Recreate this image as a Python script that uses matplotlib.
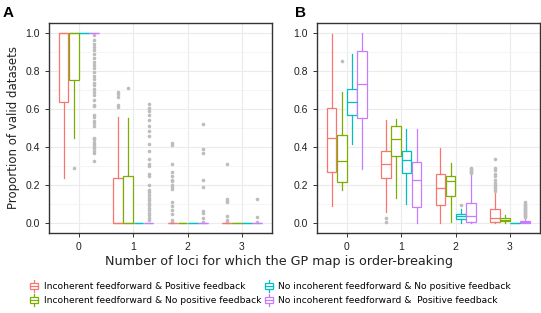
import matplotlib
matplotlib.use("Agg")
import matplotlib.pyplot as plt
from matplotlib.legend_handler import HandlerBase
from matplotlib.patches import Patch, Rectangle
from matplotlib.lines import Line2D
from matplotlib.ticker import MultipleLocator

# groups (number of order-breaking loci) and series
loci = [0, 1, 2, 3]
series = [
    "Incoherent feedforward & Positive feedback",
    "Incoherent feedforward & No positive feedback",
    "No incoherent feedforward & No positive feedback",
    "No incoherent feedforward &  Positive feedback",
]
colors = ["#F8766D", "#7CAE00", "#00BFC4", "#C77CFF"]

# box stats per series, per loci group: (whislo, q1, med, q3, whishi)
stats_a = [
    [(0.24, 0.635, 1.0, 1.0, 1.0), (0.0, 0.0, 0.0, 0.24, 0.555), (0, 0, 0, 0, 0), (0, 0, 0, 0, 0)],
    [(0.45, 0.75, 1.0, 1.0, 1.0), (0.0, 0.0, 0.0, 0.25, 0.55), (0, 0, 0, 0, 0), (0, 0, 0, 0, 0)],
    [(1.0, 1.0, 1.0, 1.0, 1.0), (0, 0, 0, 0, 0), (0, 0, 0, 0, 0), (0, 0, 0, 0, 0)],
    [(1.0, 1.0, 1.0, 1.0, 1.0), (0, 0, 0, 0, 0), (0, 0, 0, 0, 0), (0, 0, 0, 0, 0)],
]
fliers_a = [
    [[], [0.61, 0.62, 0.66, 0.68, 0.69],
     [0.42, 0.41, 0.31, 0.27, 0.25, 0.23, 0.22, 0.20, 0.19, 0.18, 0.11, 0.09, 0.07, 0.05, 0.02, 0.01],
     [0.31, 0.13, 0.12, 0.11, 0.04, 0.02, 0.01]],
    [[0.29], [0.71], [], []],
    [[], [], [], []],
    [[0.985, 0.962, 0.941, 0.924, 0.907, 0.889, 0.869, 0.846, 0.829, 0.812, 0.794, 0.772,
      0.755, 0.737, 0.725, 0.703, 0.691, 0.674, 0.648, 0.622, 0.613, 0.570, 0.558, 0.535,
      0.527, 0.513, 0.449, 0.440, 0.427, 0.415, 0.406, 0.397, 0.380, 0.368, 0.328],
     [0.627, 0.604, 0.587, 0.570, 0.544, 0.509, 0.484, 0.458, 0.415, 0.380, 0.337, 0.311,
      0.302, 0.259, 0.250, 0.199, 0.173, 0.164, 0.147, 0.133, 0.121, 0.109, 0.095, 0.081,
      0.069, 0.057, 0.043, 0.029, 0.017],
     [0.52, 0.39, 0.37, 0.225, 0.19, 0.065, 0.055, 0.03, 0.01],
     [0.13, 0.035, 0.01]],
]

stats_b = [
    [(0.09, 0.27, 0.45, 0.605, 0.99), (0.06, 0.24, 0.31, 0.38, 0.54),
     (0.0, 0.095, 0.185, 0.26, 0.395), (0.0, 0.01, 0.03, 0.075, 0.16)],
    [(0.175, 0.215, 0.325, 0.465, 0.69), (0.135, 0.355, 0.44, 0.51, 0.545),
     (0.01, 0.145, 0.22, 0.25, 0.315), (0.0, 0.015, 0.02, 0.03, 0.045)],
    [(0.415, 0.57, 0.635, 0.705, 0.89), (0.10, 0.265, 0.33, 0.38, 0.495),
     (0.0, 0.025, 0.04, 0.05, 0.075), (0.0, 0.0, 0.0, 0.002, 0.003)],
    [(0.285, 0.55, 0.73, 0.905, 1.0), (0.0, 0.085, 0.225, 0.32, 0.495),
     (0.0, 0.005, 0.04, 0.105, 0.255), (0.0, 0.0, 0.005, 0.015, 0.03)],
]
fliers_b = [
    [[], [0.03, 0.005], [],
     [0.34, 0.29, 0.28, 0.26, 0.25, 0.23, 0.21, 0.20, 0.19, 0.18, 0.17]],
    [[0.85], [], [], []],
    [[], [], [0.095], []],
    [[], [], [0.29, 0.285, 0.28, 0.275, 0.27, 0.265],
     [0.11, 0.10, 0.095, 0.09, 0.085, 0.08, 0.075, 0.07, 0.065, 0.06, 0.055, 0.05, 0.045, 0.04, 0.035]],
]


class BoxHandler(HandlerBase):
    def create_artists(self, legend, orig_handle, xdescent, ydescent,
                       width, height, fontsize, trans):
        c = orig_handle.get_edgecolor()
        x0, y0 = -xdescent, -ydescent
        bw = width * 0.9
        bx = x0 + (width - bw) / 2
        cx = x0 + width / 2
        art = [
            Line2D([cx, cx], [y0, y0 + height * 0.25], color=c, lw=0.9),
            Line2D([cx, cx], [y0 + height * 0.75, y0 + height], color=c, lw=0.9),
            Rectangle((bx, y0 + height * 0.25), bw, height * 0.5,
                      facecolor="white", edgecolor=c, lw=0.9),
            Line2D([bx, bx + bw], [y0 + height / 2] * 2, color=c, lw=0.9),
        ]
        for a in art:
            a.set_transform(trans)
        return art


def draw_panel(ax, stats, fliers, label, label_x):
    width = 0.1875
    offsets = [-1.5 * width, -0.5 * width, 0.5 * width, 1.5 * width]
    for s, col in enumerate(colors):
        bst = []
        for g in range(len(loci)):
            lo, q1, med, q3, hi = stats[s][g]
            bst.append(dict(whislo=lo, q1=q1, med=med, q3=q3, whishi=hi,
                            fliers=fliers[s][g]))
        pos = [x + offsets[s] for x in loci]
        ax.bxp(bst, positions=pos, widths=width * 0.95, showcaps=False,
               patch_artist=True, manage_ticks=False,
               boxprops=dict(facecolor="white", edgecolor=col, lw=0.9),
               whiskerprops=dict(color=col, lw=0.9),
               medianprops=dict(color=col, lw=0.9),
               flierprops=dict(marker="o", markersize=2.6, markerfacecolor="#BDBDBD",
                               markeredgecolor="none"))
    ax.set_xlim(-0.55, 3.55)
    ax.set_ylim(-0.05, 1.05)
    ax.set_xticks(loci)
    ax.set_xticklabels([str(v) for v in loci])
    ax.yaxis.set_minor_locator(MultipleLocator(0.1))
    ax.set_yticks([0, 0.2, 0.4, 0.6, 0.8, 1.0])
    ax.set_yticklabels(["0.0", "0.2", "0.4", "0.6", "0.8", "1.0"])
    ax.grid(True, which="major", color="#EBEBEB", lw=0.8)
    ax.grid(True, which="minor", axis="y", color="#F2F2F2", lw=0.5)
    ax.set_axisbelow(True)
    ax.tick_params(which="minor", length=0)
    ax.tick_params(which="major", length=3, color="#333333", width=0.7,
                   labelsize=7.5, labelcolor="#222222")
    for t in ax.get_xticklabels() + ax.get_yticklabels():
        t.set_family("Liberation Sans")
    for sp in ax.spines.values():
        sp.set_color("#333333")
        sp.set_linewidth(1.0)
    ax.text(label_x, 1.08, label, transform=ax.transAxes, fontsize=11,
            fontweight="bold", family="Liberation Sans", va="top", ha="left")


fig = plt.figure(figsize=(5.41, 3.13), dpi=100)
ax_a = fig.add_axes([0.0906, 0.2556, 0.412, 0.671])
ax_b = fig.add_axes([0.586, 0.2556, 0.412, 0.671])
draw_panel(ax_a, stats_a, fliers_a, "A", -0.21)
draw_panel(ax_b, stats_b, fliers_b, "B", -0.1)

ax_a.set_ylabel("Proportion of valid datasets", fontsize=8.5, color="#222222")
fig.text(0.515, 0.165, "Number of loci for which the GP map is order-breaking",
         ha="center", va="center", fontsize=9.2, color="#222222")

handles = [Patch(facecolor="white", edgecolor=c) for c in colors]
fig.legend(handles, series, loc="center", bbox_to_anchor=(0.5, 0.065), ncol=2,
           frameon=False, fontsize=6.6, handler_map={Patch: BoxHandler()},
           handlelength=0.9, handleheight=1.6, handletextpad=0.6,
           columnspacing=0.4, labelspacing=0.25)

fig.savefig("out.png", dpi=100)
